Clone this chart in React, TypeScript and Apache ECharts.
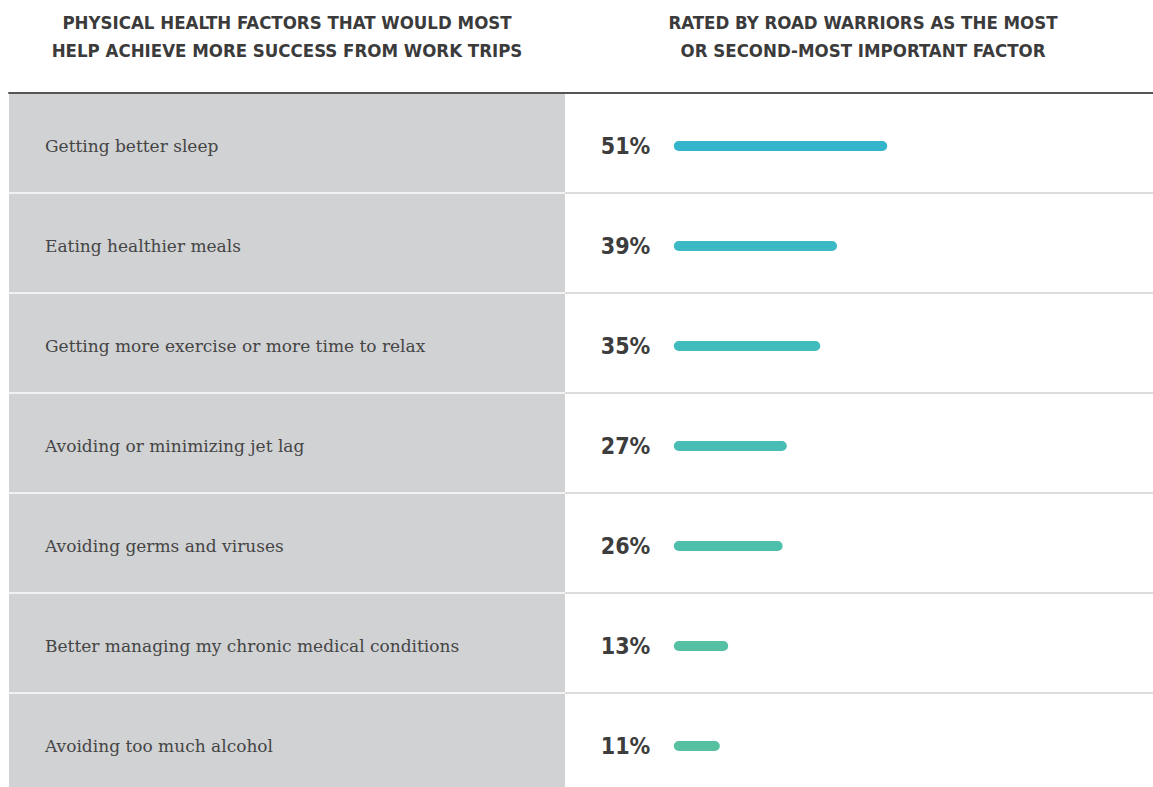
import React, { useEffect, useRef } from "react";
import * as echarts from "echarts";

const categories = [
  "Getting better sleep",
  "Eating healthier meals",
  "Getting more exercise or more time to relax",
  "Avoiding or minimizing jet lag",
  "Avoiding germs and viruses",
  "Better managing my chronic medical conditions",
  "Avoiding too much alcohol",
];
const values = [51, 39, 35, 27, 26, 13, 11];
const barColors = ["#33b6cc", "#3bbac5", "#41bcbc", "#48bdb3", "#4ebfab", "#55c0a3", "#57c0a1"];
const headerLeft = ["PHYSICAL HEALTH FACTORS THAT WOULD MOST", "HELP ACHIEVE MORE SUCCESS FROM WORK TRIPS"];
const headerRight = ["RATED BY ROAD WARRIORS AS THE MOST", "OR SECOND-MOST IMPORTANT FACTOR"];

const condensed = "'Liberation Sans Narrow', 'DejaVu Sans Condensed', 'Roboto', sans-serif";

export default function App() {
  const ref = useRef<HTMLDivElement>(null);
  useEffect(() => {
    document.body.style.margin = "0";
    document.body.style.overflow = "hidden";
    const chart = echarts.init(ref.current!, null, { renderer: "svg" });
    const headerStyle = {
      fill: "#3b3b3b",
      fontFamily: condensed,
      fontWeight: "bold" as const,
      fontSize: 18.5,
      textAlign: "center" as const,
      textVerticalAlign: "middle" as const,
    };
    const hiddenValueAxis = (gridIndex: number, min: number, max: number, line: boolean) => ({
      gridIndex,
      type: "value",
      position: "top",
      min,
      max,
      axisLine: { show: line, onZero: false, lineStyle: { color: "#555555", width: 2 } },
      axisTick: { show: false },
      axisLabel: { show: false },
      splitLine: { show: false },
    });
    chart.setOption({
      animation: false,
      backgroundColor: "#ffffff",
      graphic: [
        ...headerLeft.map((t, i) => ({
          type: "text",
          x: 287,
          y: 22 + i * 28,
          style: { ...headerStyle, text: t },
        })),
        ...headerRight.map((t, i) => ({
          type: "text",
          x: 863,
          y: 22 + i * 28,
          style: { ...headerStyle, text: t },
        })),
      ],
      grid: [
        { left: 9, top: 93, width: 556, height: 700, show: true, backgroundColor: "#d1d2d4", borderWidth: 0 },
        { left: 565, top: 93, width: 588, height: 700, show: false },
        { left: 565, top: 96, width: 588, height: 700, show: false },
      ],
      xAxis: [
        hiddenValueAxis(0, 0, 1, true),
        hiddenValueAxis(1, 0, 1, true),
        hiddenValueAxis(2, -26, 114.5, false),
      ],
      yAxis: [
        {
          gridIndex: 0,
          type: "category",
          inverse: true,
          data: categories,
          axisLine: { show: false },
          axisTick: { show: false },
          axisLabel: { show: false },
          splitLine: { show: true, lineStyle: { color: "#f2f2f2", width: 2 } },
        },
        {
          gridIndex: 1,
          type: "category",
          inverse: true,
          data: categories,
          axisLine: { show: false },
          axisTick: { show: false },
          axisLabel: { show: false },
          splitLine: { show: true, lineStyle: { color: "#dddddd", width: 2 } },
        },
        {
          gridIndex: 2,
          type: "category",
          inverse: true,
          data: categories,
          axisLine: { show: false },
          axisTick: { show: false },
          splitLine: { show: false },
          axisLabel: {
            align: "left",
            margin: 520,
            color: "#454545",
            fontFamily: "'DejaVu Serif', serif",
            fontSize: 17,
          },
        },
      ],
      series: [
        {
          type: "bar",
          xAxisIndex: 2,
          yAxisIndex: 2,
          barWidth: 10,
          data: values.map((v, i) => ({ value: v, itemStyle: { color: barColors[i] } })),
          itemStyle: { borderRadius: 5 },
          label: {
            show: true,
            position: "left",
            distance: 73,
            align: "left",
            formatter: "{c}%",
            color: "#3d3d3d",
            fontFamily: condensed,
            fontWeight: "bold",
            fontSize: 23,
          },
        },
      ],
    });
    return () => chart.dispose();
  }, []);
  return <div ref={ref} style={{ width: 1153, height: 800 }} />;
}
